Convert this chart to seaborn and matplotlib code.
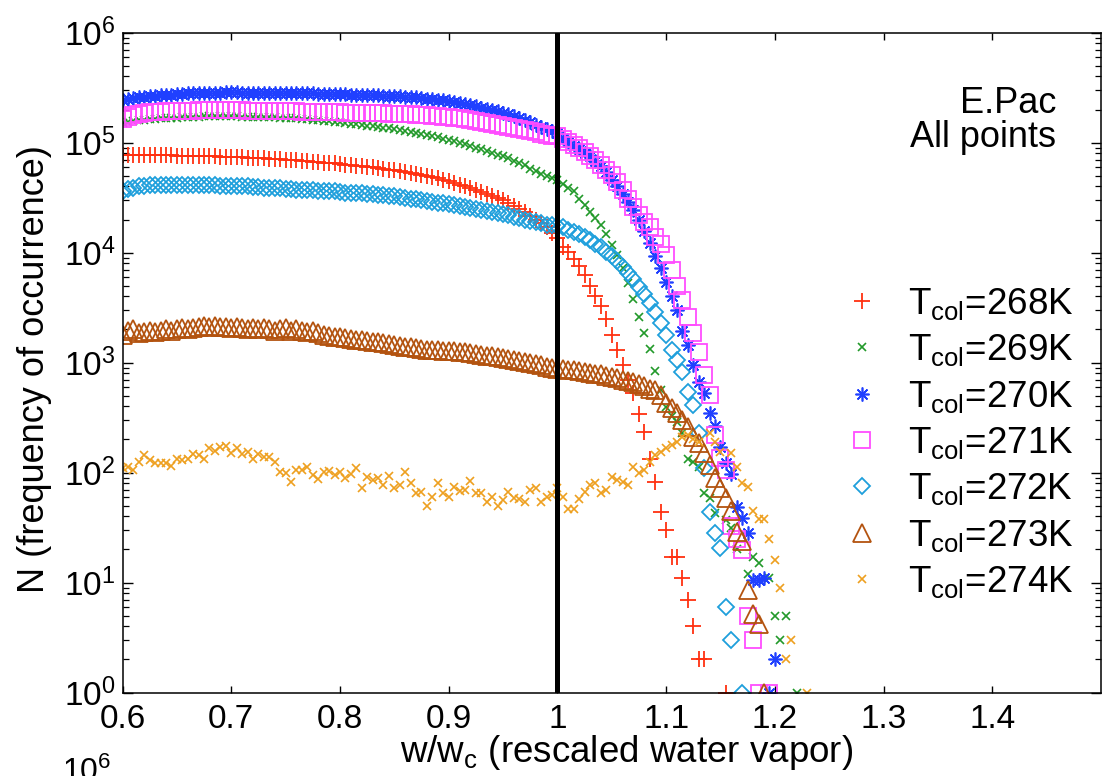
import numpy as np
import pandas as pd
import matplotlib
matplotlib.use("Agg")
import matplotlib.pyplot as plt
import seaborn as sns
from matplotlib.ticker import LogLocator, NullFormatter, FixedLocator, NullLocator

# ---------------- data ----------------
# rescaled water vapour grid (bin centres)
w_start, w_step, n_bins = 0.6, 0.005, 127
w_ratio = np.round(w_start + w_step * np.arange(n_bins), 3)

N = None  # empty bin (no occurrences)

t268 = [78000, 77500, 77000, 77500, 77000, 77000, 76500, 77000, 76500, 76500,
        76000, 76000, 75500, 75500, 75000, 75500, 75000, 75000, 74500, 74500,
        74000, 74000, 73500, 73000, 73000, 72500, 72000, 71500, 71000, 70500,
        70000, 69500, 69000, 68500, 68000, 67000, 66500, 66000, 65500, 65000,
        64000, 63000, 62500, 61500, 61000, 60000, 59500, 58500, 58000, 57000,
        56000, 55000, 54000, 53000, 52000, 51000, 50000, 49000, 47500, 46000,
        44500, 43000, 41500, 40000, 38500, 37000, 35500, 34000, 32500, 31500,
        30000, 28000, 26500, 25000, 23500, 21500, 20000, 18500, 17000, 15000,
        13500, 11300, 10200, 8800, 7500, 6200, 5000, 4000, 3300, 2500,
        1800, 1300, 950, 700, 530, 340, 235, 133, 82, 44,
        30, 17, 17, 11, 7, 4, 2, 2, N, N,
        N, 1, N, N, N, N, N, N, N, N,
        N, N, N, N, N, N, N]

t269 = [150000, 154000, 157000, 160000, 162000, 163000, 165000, 166000, 167000, 168000,
        169000, 170000, 171000, 172000, 172000, 173000, 173000, 173000, 173000, 173000,
        173000, 173000, 172000, 172000, 172000, 171000, 171000, 170000, 170000, 169000,
        168000, 167000, 166000, 165000, 163000, 162000, 160000, 158000, 157000, 155000,
        153000, 151000, 149000, 147000, 145000, 143000, 141000, 139000, 137000, 135000,
        133000, 131000, 128000, 126000, 123000, 120000, 118000, 115000, 112000, 109000,
        106000, 103000, 100000, 97000, 94000, 90000, 87000, 84000, 81000, 78000,
        75000, 72000, 68000, 65000, 62000, 58000, 55000, 52000, 50000, 48000,
        46000, 42000, 39000, 36000, 31000, 27000, 23500, 20800, 17800, 14800,
        11800, 9500, 7200, 5300, 3800, 2600, 1860, 1330, 840, 560,
        395, 330, 290, 230, 133, 124, 112, 65, 59, 43,
        N, 37, 31, 20, N, 12, 17, 15, N, 11,
        5, 3, 5, N, 1, N, N]

t270 = [246000, 250000, 254000, 258000, 261000, 264000, 267000, 270000, 272000, 274000,
        276000, 278000, 280000, 281000, 282000, 283000, 284000, 285000, 285000, 286000,
        286000, 286000, 285000, 285000, 285000, 284000, 284000, 284000, 283000, 283000,
        282000, 282000, 281000, 281000, 280000, 280000, 279000, 278000, 278000, 277000,
        276000, 275000, 274000, 273000, 272000, 271000, 270000, 269000, 268000, 267000,
        266000, 264000, 262000, 260000, 258000, 255000, 252000, 249000, 245000, 242000,
        240000, 236000, 231000, 225000, 220000, 214000, 208000, 202000, 197000, 193000,
        188000, 181000, 174000, 167000, 160000, 153000, 146000, 139000, 133000, 127000,
        122000, 111000, 102000, 94000, 87000, 81000, 76000, 68000, 61000, 54000,
        46000, 40000, 34000, 29000, 24500, 20000, 15700, 12300, 9400, 7200,
        5400, 4000, 3000, 1950, 1450, 955, 665, 530, 347, 265,
        170, 122, 97, 49, 39, 28, 10.5, 10.5, 11, 1,
        2, N, N, N, N, N, N]

t271 = [165000, 172000, 178000, 183000, 186000, 189000, 191000, 192000, 193000, 194000,
        195000, 195000, 196000, 196000, 197000, 197000, 197000, 197000, 197000, 197000,
        197000, 197000, 197000, 196000, 196000, 196000, 195000, 195000, 195000, 194000,
        194000, 193000, 193000, 192000, 192000, 191000, 191000, 190000, 190000, 189000,
        189000, 188000, 188000, 187000, 187000, 186000, 186000, 185000, 185000, 184000,
        184000, 183000, 182000, 181000, 180000, 178000, 177000, 176000, 174000, 172000,
        170000, 168000, 166000, 164000, 161000, 158000, 155000, 152000, 149000, 146000,
        143000, 139000, 136000, 133000, 130000, 127000, 124000, 121000, 118000, 116000,
        114000, 108000, 102000, 96000, 90000, 82000, 75000, 69000, 63000, 57000,
        51000, 44000, 37000, 31000, 26000, 22000, 19000, 17000, 14000, 12000,
        9500, 6900, 5000, 3700, 2600, 1860, 1250, 775, 505, 220,
        135, 105, 33, 25, 19.7, 5, 3, 1, N, 1,
        N, N, N, N, N, N, N]

t272 = [36000, 38000, 39000, 40000, 40500, 41000, 41000, 41500, 41500, 41500,
        41500, 41500, 41500, 41500, 41000, 41000, 41000, 41000, 40500, 40500,
        40500, 40000, 40000, 40000, 39500, 39500, 39000, 39000, 38500, 38500,
        38000, 38000, 37500, 37500, 37000, 37000, 36500, 36500, 36000, 36000,
        35500, 35000, 35000, 34500, 34500, 34000, 34000, 33500, 33500, 33000,
        32500, 32000, 31500, 31000, 30500, 30000, 29500, 29000, 28500, 28000,
        27500, 27000, 26500, 26000, 25500, 25000, 24500, 24000, 23500, 23000,
        22500, 22000, 21000, 20500, 20000, 19500, 19000, 18500, 18000, 17800,
        17500, 17200, 16200, 15300, 14700, 13800, 13000, 12100, 11200, 10200,
        9400, 8400, 7400, 6500, 5700, 4900, 4200, 3500, 2900, 2300,
        1800, 1300, 1050, 820, 540, 410, 229, 110, 44, 28,
        20.5, 6, 3, N, 1, N, N, N, N, N,
        N, N, N, N, N, N, N]

t273 = [1800, 1950, 2000, 1850, 1900, 1950, 1900, 1950, 2000, 1950,
        2000, 2050, 2000, 2050, 2100, 2150, 2100, 2150, 2100, 2100,
        2050, 2100, 2050, 2000, 2050, 2000, 2050, 2000, 1950, 2000,
        2050, 1950, 2000, 1950, 1900, 1950, 1850, 1800, 1750, 1700,
        1700, 1680, 1650, 1620, 1600, 1580, 1550, 1530, 1500, 1480,
        1450, 1430, 1400, 1380, 1350, 1330, 1310, 1300, 1290, 1280,
        1280, 1270, 1260, 1250, 1220, 1200, 1180, 1160, 1150, 1130,
        1100, 1080, 1060, 1040, 1020, 1000, 970, 950, 920, 900,
        880, 870, 860, 850, 840, 820, 800, 790, 780, 760,
        740, 720, 700, 680, 660, 640, 610, 580, 560, 505,
        430, 390, 350, 300, 260, 210, 185, 150, 117, 90,
        72, 59, 45, 29, 24, 8.5, 5.2, 4.2, 1, N,
        N, N, N, N, N, N, N]

t274 = [109, 113, 105, 125, 144, 130, 121, 123, 121, 114,
        134, 130, 132, 149, 144, 134, 168, 158, 171, 174,
        151, 166, 147, 154, 134, 147, 139, 139, 125, 102,
        99, 82, 105, 105, 113, 95, 88, 102, 104, 95,
        102, 90, 98, 109, 72, 91, 85, 90, 77, 93,
        72, 77, 102, 81, 65, 67, 50, 60, 81, 65,
        60, 74, 68, 69, 84, 65, 65, 54, 60, 50,
        56, 67, 59, 58, 54, 69, 72, 54, 60, 62,
        73, 60, 47, 47, 57, 67, 77, 80, 65, 69,
        91, 85, 82, 77, 112, 100, 105, 124, 144, 154,
        167, 178, 190, 210, 219, 202, 190, N, 229, 190,
        154, N, 151, 112, 80, 74, 45, 38, 38, 25,
        16, 8.9, 2, 3, N, N, 1]

temperatures = ["268K", "269K", "270K", "271K", "272K", "273K", "274K"]
series = [t268, t269, t270, t271, t272, t273, t274]
x_ticks = [0.6, 0.7, 0.8, 0.9, 1.0, 1.1, 1.2, 1.3, 1.4]
x_tick_labels = ["0.6", "0.7", "0.8", "0.9", "1", "1.1", "1.2", "1.3", "1.4"]

# ---------------- styles ----------------
styles = [
    dict(marker="+", ms=11, mew=1.3, mfc="none", c="#FF3010"),
    dict(marker="x", ms=5.5, mew=1.2, mfc="none", c="#22992A"),
    dict(marker=(8, 2, 0), ms=10, mew=1.2, mfc="none", c="#2040FF"),
    dict(marker="s", ms=11, mew=1.3, mfc="none", c="#FF4DFF"),
    dict(marker="D", ms=8.3, mew=1.3, mfc="none", c="#1E9FDC"),
    dict(marker="^", ms=12.5, mew=1.3, mfc="none", c="#B3530F"),
    dict(marker="x", ms=6, mew=1.2, mfc="none", c="#EEA020"),
]

sns.set_theme(style="ticks")
plt.rcParams["font.family"] = ["Liberation Sans", "DejaVu Sans"]
plt.rcParams["mathtext.fontset"] = "custom"
plt.rcParams["mathtext.rm"] = "Liberation Sans"
plt.rcParams["mathtext.it"] = "Liberation Sans:italic"
plt.rcParams["mathtext.bf"] = "Liberation Sans:bold"
plt.rcParams["mathtext.default"] = "regular"
plt.rcParams["axes.edgecolor"] = "black"
plt.rcParams["text.color"] = "black"
plt.rcParams["xtick.color"] = "black"
plt.rcParams["ytick.color"] = "black"
plt.rcParams["axes.labelcolor"] = "black"

fig = plt.figure(figsize=(11.1, 7.76), dpi=100)
fig.patch.set_facecolor("white")
ax = fig.add_axes([122.5 / 1110, (776 - 692.5) / 776, (1101 - 122.5) / 1110, (692.5 - 32.7) / 776])
ax.set_facecolor("white")
ax.set_yscale("log")

handles, labels = [], []
for temp, vals, st in zip(temperatures, series, styles):
    df = pd.DataFrame({"w": w_ratio, "n": np.array(vals, dtype=float)})
    sns.lineplot(data=df, x="w", y="n", ax=ax, estimator=None, sort=False,
                 linestyle="none", marker=st["marker"], markersize=st["ms"],
                 markeredgewidth=st["mew"], markerfacecolor=st["mfc"],
                 markeredgecolor=st["c"], color=st["c"], legend=False)
    handles.append(ax.lines[-1])
    labels.append(r"T$_{col}$=" + temp)

ax.axvline(1.0, color="black", lw=3.6, zorder=5)

ax.set_xlim(0.6, 1.5)
ax.set_ylim(1, 1e6)
ax.xaxis.set_major_locator(FixedLocator(x_ticks))
ax.set_xticklabels(x_tick_labels)
ax.xaxis.set_minor_locator(NullLocator())
ax.yaxis.set_major_locator(LogLocator(base=10, numticks=10))
ax.yaxis.set_minor_locator(LogLocator(base=10, subs=np.arange(2, 10), numticks=100))
ax.yaxis.set_minor_formatter(NullFormatter())

ax.tick_params(axis="both", which="both", direction="in", top=True, right=True)
ax.tick_params(axis="x", which="major", length=5, width=1, labelsize=24, pad=8)
ax.tick_params(axis="y", which="major", length=7.5, width=1, labelsize=24, pad=5)
ax.tick_params(axis="y", which="minor", length=4.5, width=0.9)
for lbl in ax.get_yticklabels():
    lbl.set_verticalalignment("center_baseline")
for sp in ax.spines.values():
    sp.set_linewidth(1.1)
    sp.set_color("black")
    sp.set_visible(True)

ax.set_xlabel(r"w/w$_c$ (rescaled water vapor)", fontsize=26.5)
ax.xaxis.set_label_coords(0.5156, -0.0614)
ax.set_ylabel("N (frequency of occurrence)", fontsize=26)
ax.yaxis.set_label_coords(-0.072, 0.49)

ax.text(0.954, (692.5 - 113.3) / 659.8, "E.Pac", transform=ax.transAxes,
        ha="right", va="baseline", fontsize=26)
ax.text(0.954, (692.5 - 146.7) / 659.8, "All points", transform=ax.transAxes,
        ha="right", va="baseline", fontsize=26)

ax.legend(handles, labels, loc="upper left", bbox_to_anchor=(0.737, 0.616),
          frameon=False, fontsize=26.5, handlelength=1.0, handletextpad=0.75,
          labelspacing=0.28, borderpad=0, borderaxespad=0, numpoints=1)

# cut-off tick label of the panel below (partly visible in the original)
fig.text(62 / 1110, 1 - 757 / 776, r"$\mathdefault{10^{6}}$", ha="left", va="top", fontsize=23)

fig.savefig("out.png", dpi=100, facecolor="white")
